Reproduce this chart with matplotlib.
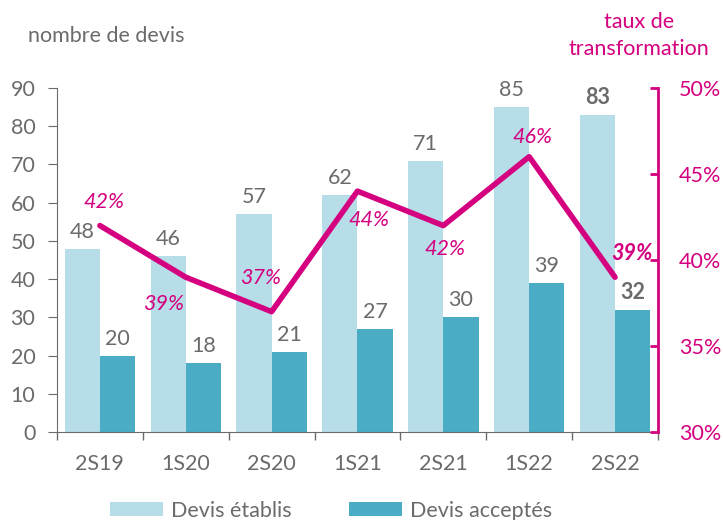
import matplotlib.pyplot as plt
import numpy as np

plt.rcParams['font.family'] = ['Lato', 'DejaVu Sans']

periods = ["2S19", "1S20", "2S20", "1S21", "2S21", "1S22", "2S22"]
devis_etablis = [48, 46, 57, 62, 71, 85, 83]
devis_acceptes = [20, 18, 21, 27, 30, 39, 32]
taux = [42, 39, 37, 44, 42, 46, 39]

light = '#B7DDE8'
dark = '#4BACC6'
pink = '#D4007F'
grey = '#6B6B6B'
fs = 15.5

x = np.arange(len(periods))
w = 0.41

fig = plt.figure(figsize=(7.23, 5.2), dpi=100)
ax = fig.add_axes([0.0788, 0.169, 0.8312, 0.662])
ax2 = ax.twinx()

b1 = ax.bar(x - w / 2, devis_etablis, w, color=light, label='Devis établis')
b2 = ax.bar(x + w / 2, devis_acceptes, w, color=dark, label='Devis acceptés')

last = len(periods) - 1
for i, v in enumerate(devis_etablis):
    ax.annotate(str(v), (x[i] - w / 2, v), xytext=(0, 5), textcoords='offset points',
                ha='center', va='bottom', fontsize=fs, color=grey,
                fontweight='bold' if i == last else 'normal')
for i, v in enumerate(devis_acceptes):
    ax.annotate(str(v), (x[i] + w / 2, v), xytext=(0, 5), textcoords='offset points',
                ha='center', va='bottom', fontsize=fs, color=grey,
                fontweight='bold' if i == last else 'normal')

ax.set_xlim(-0.5, len(periods) - 0.5)
ax.set_ylim(0, 90)
ax.set_yticks(range(0, 91, 10))
ax.set_xticks(x)
ax.set_xticklabels(periods)
ax.set_xticks(np.arange(-0.5, len(periods), 1), minor=True)
ax.tick_params(axis='x', which='major', length=0, pad=16, labelsize=fs, labelcolor=grey)
ax.tick_params(axis='x', which='minor', length=6, color=grey, width=1)
ax.tick_params(axis='y', length=6.5, color=grey, labelsize=fs, labelcolor=grey, pad=9)
for s in ['top', 'right']:
    ax.spines[s].set_visible(False)
ax.spines['left'].set_color(grey)
ax.spines['bottom'].set_color(grey)

ax2.plot(x, taux, color=pink, lw=4, solid_capstyle='round', zorder=5)
ax2.set_ylim(30, 50)
ax2.set_yticks(range(30, 51, 5))
ax2.set_yticklabels([f"{t}%" for t in range(30, 51, 5)])
ax2.tick_params(axis='y', direction='in', length=6, color=pink, width=2,
                labelsize=fs, labelcolor=pink, pad=15)
for s in ['top', 'left', 'bottom']:
    ax2.spines[s].set_visible(False)
ax2.spines['right'].set_color(pink)
ax2.spines['right'].set_linewidth(2)

# label offsets (points) for the rates
offs = [(3, 17), (-16, -19), (-8, 24), (8, -21), (1.5, -17), (2, 14), (12, 17)]
for i, t in enumerate(taux):
    ax2.annotate(f"{t}%", (x[i], t), xytext=offs[i], textcoords='offset points',
                 ha='center', va='center', fontsize=fs, color=pink, style='italic',
                 fontweight='bold' if i == last else 'normal')

fig.text(0.039, 0.93, "nombre de devis", fontsize=fs, color=grey, ha='left', va='center')
fig.text(0.884, 0.932, "taux de\ntransformation", fontsize=fs, color=pink,
         ha='center', va='center', linespacing=1.4)

fig.legend(handles=[b1, b2], loc='center', bbox_to_anchor=(0.458, 0.018), ncol=2,
           frameon=False, fontsize=fs, labelcolor=grey, handlelength=2.45,
           handleheight=0.67, columnspacing=2.7, handletextpad=0.35)

fig.savefig('out.png', dpi=100)
